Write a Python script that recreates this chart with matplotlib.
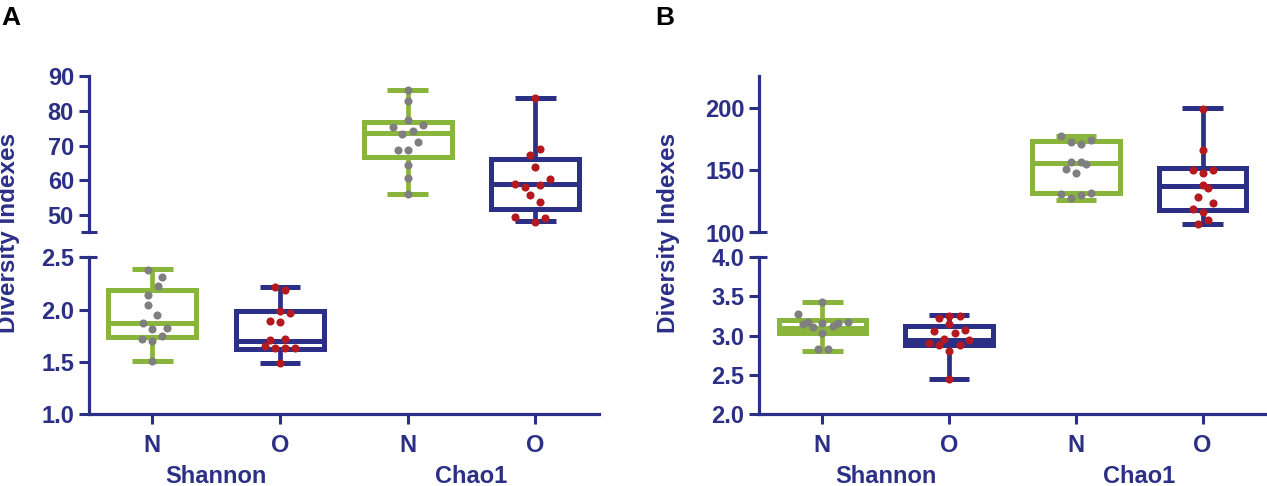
import matplotlib
matplotlib.use("Agg")
import matplotlib.pyplot as plt
from matplotlib.ticker import FixedLocator

plt.rcParams['font.family'] = ['Liberation Sans', 'DejaVu Sans']
plt.rcParams['font.weight'] = 'bold'

NAVY = '#2b2f86'
GREEN = '#8ab53c'
GRAY = '#7f7f7f'
RED = '#b3191f'

groups = ['Shannon', 'Chao1']
ticklabels = ['N', 'O', 'N', 'O']

# box stats: (min, q1, median, q3, max)
a_box = [(1.51, 1.734, 1.87, 2.19, 2.39),
         (1.49, 1.62, 1.70, 1.99, 2.22),
         (56.2, 66.6, 73.5, 76.9, 86.0),
         (48.3, 51.9, 58.9, 66.0, 83.8)]
b_box = [(2.81, 3.04, 3.10, 3.205, 3.43),
         (2.45, 2.88, 2.94, 3.12, 3.26),
         (126.3, 131.6, 155.6, 173.4, 177.9),
         (106.9, 117.8, 137.5, 151.6, 200.0)]

# individual samples (values) and their horizontal jitter
a_pts = [[2.38, 2.31, 2.23, 2.14, 2.04, 1.95, 1.87, 1.81, 1.82, 1.75, 1.72, 1.70, 1.51],
         [2.22, 2.19, 1.99, 1.97, 1.89, 1.88, 1.71, 1.72, 1.65, 1.63, 1.63, 1.63, 1.49],
         [86.0, 82.8, 77.4, 75.3, 75.8, 74.2, 73.3, 71.0, 68.8, 68.6, 64.5, 60.8, 56.2],
         [83.8, 69.1, 67.3, 63.9, 58.9, 58.2, 58.7, 60.3, 55.9, 53.9, 49.4, 49.2, 48.0]]
a_jit = [[-0.03, 0.078, 0.047, -0.037, -0.037, 0.04, -0.07, 0, 0.118, 0.078, -0.078, 0, 0],
         [-0.04, 0.037, 0, 0.078, -0.08, 0, -0.08, 0.037, -0.118, -0.04, 0.037, 0.118, 0],
         [0, 0, 0, -0.118, 0.118, 0.04, -0.04, 0.08, -0.078, 0, 0, 0, 0],
         [0, 0.04, -0.037, 0, -0.16, -0.08, 0.04, 0.118, -0.037, 0.04, -0.16, 0.08, 0]]
b_pts = [[3.43, 3.27, 3.18, 3.15, 3.11, 3.16, 3.03, 3.12, 3.16, 3.18, 2.83, 2.83],
         [3.25, 3.25, 3.22, 3.15, 3.06, 3.07, 3.03, 2.96, 2.94, 2.90, 2.88, 2.88, 2.81, 2.45],
         [177.4, 172.6, 171.5, 174.2, 156.4, 156.9, 155.1, 150.8, 147.6, 131.1, 127.4, 130.1, 131.6],
         [199.5, 166.2, 150.3, 150.3, 147.6, 138.3, 135.6, 128.5, 123.7, 119.1, 116.5, 109.8, 106.9]]
b_jit = [[0, -0.196, -0.117, -0.155, -0.076, 0, 0, 0.082, 0.12, 0.2, -0.038, 0.041],
         [0, 0.085, -0.079, 0, -0.12, 0.123, 0.044, -0.041, 0.158, -0.161, -0.079, 0.085, 0, 0],
         [-0.117, -0.038, 0.041, 0.12, -0.038, 0.041, 0.082, -0.076, 0, -0.117, -0.038, 0.041, 0.12],
         [0, 0, -0.076, 0.079, 0, 0, 0.041, -0.038, 0.079, -0.076, 0, 0.041, -0.038]]

box_colors = [GREEN, NAVY, GREEN, NAVY]
pt_colors = [GRAY, RED, GRAY, RED]

W, H = 1267, 486
fig = plt.figure(figsize=(W / 100, H / 100), dpi=100)


def px_axes(left, right, top, bottom):
    return fig.add_axes([left / W, 1 - bottom / H, (right - left) / W, (bottom - top) / H])


def style(ax, ylim, yticks, ylabels, brk_at):
    ax.set_xlim(-0.5, 3.5)
    ax.set_ylim(*ylim)
    for s in ['top', 'right']:
        ax.spines[s].set_visible(False)
    for s in ['left', 'bottom']:
        ax.spines[s].set_color(NAVY)
        ax.spines[s].set_linewidth(2.3)
    ax.set_yticks(yticks)
    ax.set_yticklabels(ylabels)
    ax.tick_params(axis='y', colors=NAVY, direction='out', length=7.5, width=2.2,
                   labelsize=17, pad=3)
    ax.yaxis.remove_overlapping_locs = False
    ax.yaxis.set_minor_locator(FixedLocator([brk_at]))
    ax.tick_params(axis='y', which='minor', direction='inout', length=12, width=2.2,
                   colors=NAVY)
    ax.set_facecolor('none')


def draw(ax, stats, pts, jit, idx):
    for i in idx:
        st = stats[i]
        d = dict(whislo=st[0], q1=st[1], med=st[2], q3=st[3], whishi=st[4], fliers=[])
        c = box_colors[i]
        ax.bxp([d], positions=[i], widths=0.69, capwidths=0.32, showfliers=False,
               patch_artist=True,
               boxprops=dict(facecolor='white', edgecolor=c, linewidth=3.6),
               medianprops=dict(color=c, linewidth=3.6, solid_capstyle='butt'),
               whiskerprops=dict(color=c, linewidth=3.4),
               capprops=dict(color=c, linewidth=3.6, solid_capstyle='butt'),
               manage_ticks=False)
        xs = [i + j for j in jit[i]]
        ax.scatter(xs, pts[i], s=34, color=pt_colors[i], zorder=5, linewidths=0)


def panel(left, right, letter, lx, top_lim, top_ticks, top_labels, low_lim, low_ticks,
          low_labels, box, pts, jit):
    up = px_axes(left, right, 76, 232.5)
    lo = px_axes(left, right, 257.3, 414)
    style(up, top_lim, top_ticks, top_labels, top_lim[0])
    style(lo, low_lim, low_ticks, low_labels, low_lim[1])
    up.spines['bottom'].set_visible(False)
    up.set_xticks([])
    draw(up, box, pts, jit, [2, 3])
    draw(lo, box, pts, jit, [0, 1])
    lo.set_xticks(range(4))
    lo.set_xticklabels(ticklabels)
    lo.tick_params(axis='x', colors=NAVY, direction='out', length=7.5, width=2.2,
                   labelsize=17, pad=7)
    for g, name in enumerate(groups):
        lo.annotate(name, xy=(2 * g + 0.5, 0), xycoords=('data', 'axes fraction'),
                    xytext=(0, -50), textcoords='offset points',
                    ha='center', va='baseline', fontsize=17, color=NAVY,
                    fontweight='bold')
    fig.text((lx + 9) / W, 1 - 233 / H, 'Diversity Indexes', rotation=90,
             ha='center', va='center', fontsize=17.5, color=NAVY, fontweight='bold')
    fig.text(letter[1] / W, 1 - 6 / H, letter[0], ha='left', va='top', fontsize=19,
             color='black', fontweight='bold')


panel(88.5, 599, ('A', 1), 0, (45, 90), [50, 60, 70, 80, 90], ['50', '60', '70', '80', '90'],
      (1.0, 2.5), [1.0, 1.5, 2.0, 2.5], ['1.0', '1.5', '2.0', '2.5'],
      a_box, a_pts, a_jit)

panel(759, 1266, ('B', 655), 659, (100, 226), [100, 150, 200], ['100', '150', '200'],
      (2.0, 4.0), [2.0, 2.5, 3.0, 3.5, 4.0], ['2.0', '2.5', '3.0', '3.5', '4.0'],
      b_box, b_pts, b_jit)

fig.savefig('out.png', dpi=100)
